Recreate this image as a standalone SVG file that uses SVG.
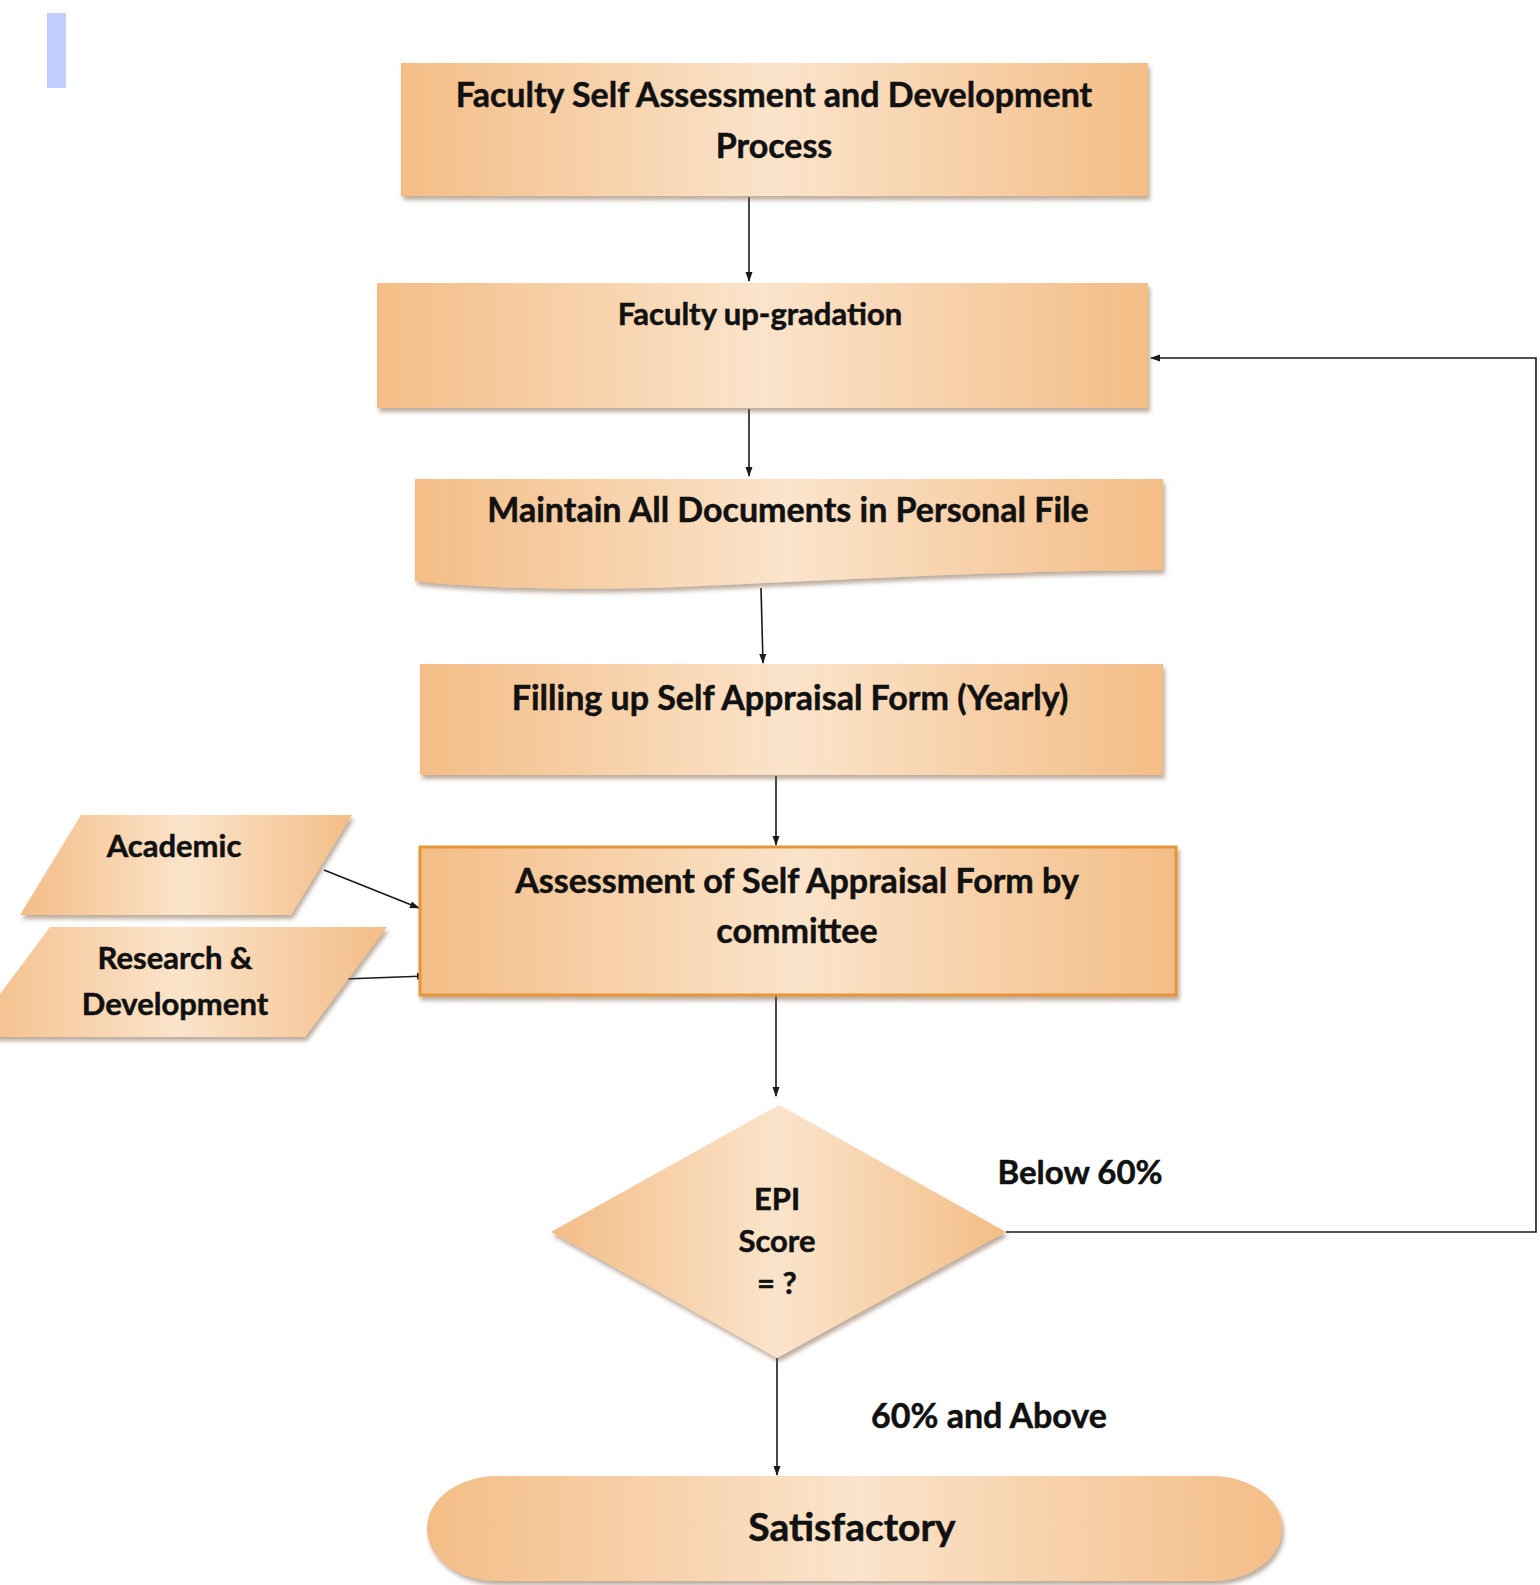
<svg xmlns="http://www.w3.org/2000/svg" width="1540" height="1585" viewBox="0 0 1540 1585">
<style>
.t{font-family:Lato,"Open Sans","Liberation Sans",sans-serif;font-weight:bold;fill:#111;text-anchor:middle;stroke:#111;stroke-width:0.5}
.b{font-size:34px}
.m{font-size:33px}
.s{font-size:31px}
.c{stroke:#1a1a1a;stroke-width:1.6;fill:none}
.n{fill:url(#g);filter:url(#sh)}
</style>
<defs>
<linearGradient id="g" x1="0" y1="0" x2="1" y2="0">
<stop offset="0" stop-color="#f3bd86"/>
<stop offset="0.5" stop-color="#fbe4cb"/>
<stop offset="1" stop-color="#f3bd86"/>
</linearGradient>
<filter id="sh" x="-5%" y="-10%" width="110%" height="125%">
<feDropShadow dx="2" dy="4" stdDeviation="2" flood-color="#7a5a3a" flood-opacity="0.5"/>
</filter>
<marker id="ah" markerWidth="10" markerHeight="10" refX="9" refY="5" orient="auto" markerUnits="userSpaceOnUse">
<path d="M0,1.5 L10,5 L0,8.5 Z" fill="#1a1a1a"/>
</marker>
</defs>
<rect x="47" y="13" width="19" height="75" fill="#c2ceff"/>
<g id="connectors">
<line class="c" x1="749" y1="197" x2="749" y2="281" marker-end="url(#ah)"/>
<line class="c" x1="749" y1="409" x2="749" y2="476" marker-end="url(#ah)"/>
<line class="c" x1="761" y1="588" x2="763" y2="663" marker-end="url(#ah)"/>
<line class="c" x1="776" y1="776" x2="776" y2="845" marker-end="url(#ah)"/>
<line class="c" x1="324" y1="870" x2="419" y2="908" marker-end="url(#ah)"/>
<line class="c" x1="344" y1="979" x2="426" y2="976" marker-end="url(#ah)"/>
<line class="c" x1="776" y1="996" x2="776" y2="1096" marker-end="url(#ah)"/>
<polyline class="c" points="1006,1232 1536,1232 1536,358 1151,358" marker-end="url(#ah)"/>
<line class="c" x1="777" y1="1358" x2="777" y2="1475" marker-end="url(#ah)"/>
</g>
<g id="n1"><rect class="n" x="401" y="63" width="747" height="133"/>
<text class="t b" x="774" y="107">Faculty Self Assessment and Development</text>
<text class="t b" x="774" y="158">Process</text></g>
<g id="n2"><rect class="n" x="377" y="283" width="771" height="125"/>
<text class="t s" x="760" y="325">Faculty up-gradation</text></g>
<g id="n3"><path class="n" d="M415,479 H1163 V570 C1000,571 850,579 700,586 C600,591 480,589 415,581 Z"/>
<text class="t b" x="788" y="522">Maintain All Documents in Personal File</text></g>
<g id="n4"><rect class="n" x="420" y="664" width="743" height="111"/>
<text class="t b" x="790" y="710">Filling up Self Appraisal Form (Yearly)</text></g>
<g id="n5"><rect class="n" x="420" y="847" width="756" height="148" stroke="#e5953a" stroke-width="3"/>
<text class="t b" x="797" y="893">Assessment of Self Appraisal Form by</text>
<text class="t b" x="797" y="943">committee</text></g>
<g id="n6"><polygon class="n" points="81,815 352,815 291,915 20,915"/>
<text class="t s" x="174" y="857">Academic</text></g>
<g id="n7"><polygon class="n" points="50,927 387,927 305,1037 -32,1037"/>
<text class="t s" x="175" y="969">Research &amp;</text>
<text class="t s" x="175" y="1015">Development</text></g>
<g id="n8"><polygon class="n" points="779,1105 1006,1232 777,1358 551,1232"/>
<text class="t s" x="777" y="1210">EPI</text>
<text class="t s" x="777" y="1252">Score</text>
<text class="t s" x="777" y="1294">= ?</text></g>
<text class="t m" x="1080" y="1184">Below 60%</text>
<text class="t b" x="989" y="1428">60% and Above</text>
<g id="n9"><rect class="n" x="427" y="1476" width="855" height="105" rx="70" ry="52"/>
<text class="t" style="font-size:39px" x="852" y="1541">Satisfactory</text></g>
</svg>
